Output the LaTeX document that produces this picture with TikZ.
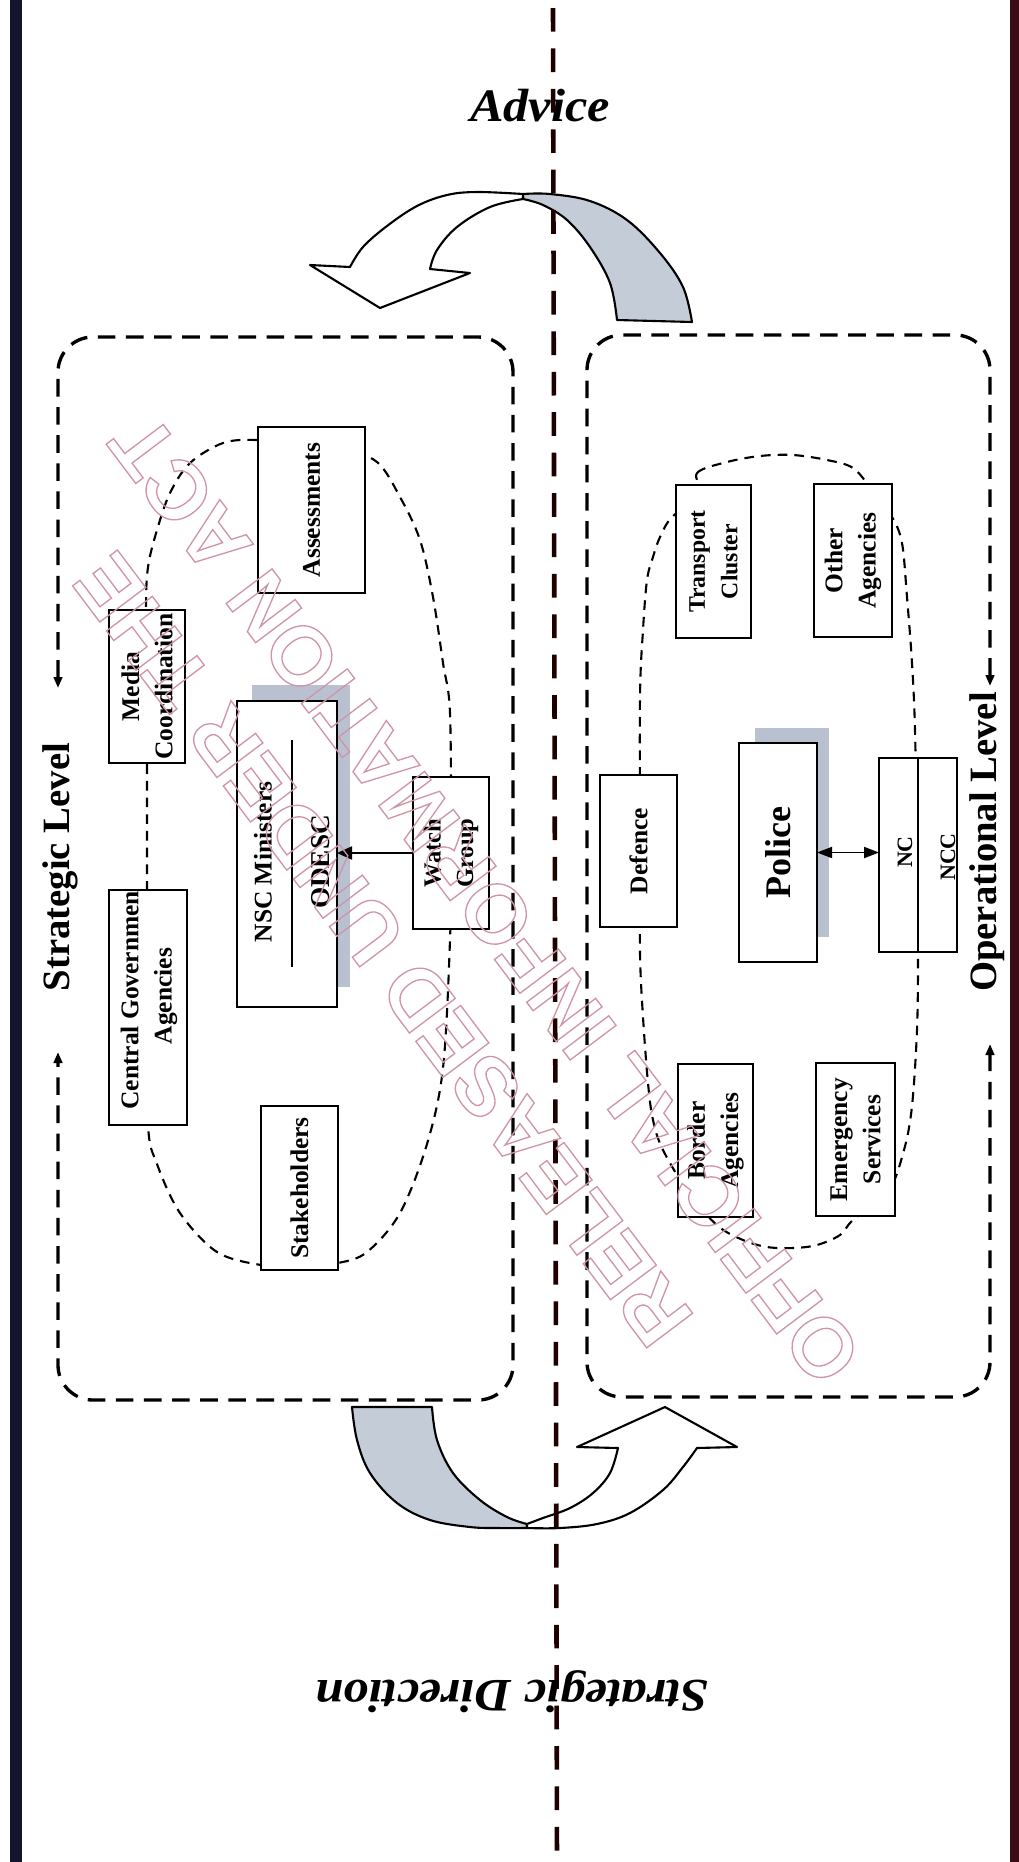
\documentclass[tikz,border=0pt]{standalone}
\usepackage{fontspec}
\setmainfont{Liberation Serif}
\newfontfamily\wmfont{Liberation Sans}
\usetikzlibrary{arrows.meta}
\definecolor{navybar}{HTML}{14142C}
\definecolor{maroonbar}{HTML}{3A0C14}
\definecolor{ribbon}{HTML}{C4CCD8}
\definecolor{shadecol}{HTML}{B9C1D0}
\definecolor{wmpink}{HTML}{CF95A4}
\newcommand{\outl}[1]{\special{pdf:literal direct 1 Tr 0.75 w}#1\special{pdf:literal direct 0 Tr}}
\tikzset{
  every node/.style={inner sep=0pt, outer sep=0pt},
  arrowline/.style={draw=black, line width=1.2pt, line join=round},
  centerdash/.style={draw=black!88!red, line width=2.6pt, dash pattern=on 13.5pt off 9.5pt},
  obox/.style={draw=black, line width=1.9pt, dash pattern=on 10pt off 6pt, rounded corners=7mm},
  loopdash/.style={draw=black, line width=1.2pt, dash pattern=on 5.5pt off 4pt},
  rbox/.style={draw=black, line width=1.3pt, fill=white, rotate=90, align=center,
    font=\bfseries\fontsize{14.5}{19}\selectfont},
  rtext/.style={rotate=90, align=center, font=\bfseries\fontsize{14.5}{19}\selectfont},
  lvl/.style={rotate=90, font=\bfseries\fontsize{22}{26}\selectfont},
  ttl/.style={font=\bfseries\itshape\fontsize{26.5}{30}\selectfont, xscale=1.08},
  gshadow/.style={fill=shadecol},
  wm/.style={text=wmpink, font=\wmfont\bfseries\fontsize{47.5}{50}\selectfont},
  smalltri/.style={{Triangle[length=2.2mm,width=1.7mm]}-{Triangle[length=2.2mm,width=1.7mm]}},
  headarrow/.style={-{Triangle[length=3mm,width=2.6mm]}, line width=1.1pt},
  dblarrow/.style={{Triangle[length=3mm,width=2.2mm]}-{Triangle[length=3mm,width=2.2mm]}, line width=1.1pt}
}
\begin{document}
\begin{tikzpicture}[x=0.2mm, y=-0.2mm]
\useasboundingbox (0,0) rectangle (1019,1862);
\fill[white] (0,0) rectangle (1019,1862);
% side bars
\fill[navybar] (10,0) rectangle (22,1862);
\fill[maroonbar] (1010,0) rectangle (1019,1862);

% top curved arrow (Advice)
\filldraw[arrowline, fill=ribbon] plot[smooth, tension=0.6] coordinates {(523,194) (550,194) (590,201) (627,220) (660,253) (683,287) (692,322)} -- (617,320) -- plot[smooth, tension=0.6] coordinates {(617,320) (610,283) (590,247) (567,220) (543,205) (523,199)} -- cycle;
\filldraw[arrowline, fill=white] plot[smooth, tension=0.6] coordinates {(523,194) (477,192) (447,195) (417,206) (387,226) (363,247) (350,267)} -- (310,265) -- (380,308) -- (470,273) -- plot[smooth, tension=0.6] coordinates {(430,269) (437,250) (457,227) (490,207) (523,199)} -- cycle;

% bottom curved arrow (Strategic Direction)
\filldraw[arrowline, fill=ribbon] (352,1407) -- (432,1407) -- plot[smooth, tension=0.6] coordinates {(432,1407) (437,1440) (453,1473) (480,1500) (507,1517) (527,1524)} -- plot[smooth, tension=0.6] coordinates {(527,1528) (497,1528) (470,1527) (430,1520) (397,1503) (370,1473) (357,1440) (352,1407)} -- cycle;
\filldraw[arrowline, fill=white] plot[smooth, tension=0.6] coordinates {(527,1528) (560,1528) (597,1524) (630,1513) (663,1490) (683,1467) (697,1448)} -- (737,1447) -- (665,1407) -- (577,1447) -- plot[smooth, tension=0.6] coordinates {(618,1448) (610,1473) (593,1493) (570,1508) (543,1518) (527,1524)} -- cycle;

% centre dashed line
\draw[centerdash] (553,8) -- (557,1862);

% outer dashed regions with level labels
\node[lvl] (sl) at (60,867) {Strategic Level};
\node[lvl] (ol) at (987,842) {Operational Level};
\draw[obox, smalltri] (58,688) -- (58,337) -- (513,337) -- (513,1400) -- (58,1400) -- (58,1052);
\draw[obox, smalltri] (990,686) -- (990,335) -- (587,335) -- (587,1397) -- (990,1397) -- (990,1044);

% inner loops
\draw[loopdash] plot[smooth cycle, tension=0.55] coordinates {
 (310,445) (257,440) (223,443) (190,463) (170,493) (157,530) (148,567) (146,610)
 (147,700) (147,830) (147,1000) (148,1125) (157,1164) (180,1213) (217,1252) (261,1265)
 (300,1267) (338,1263) (367,1252) (400,1213) (427,1144) (443,1068) (450,940) (451,850)
 (450,713) (443,663) (433,597) (420,540) (400,497) (377,462) (340,447)};
\draw[loopdash] plot[smooth cycle, tension=0.55] coordinates {
 (700,495) (697,473) (727,462) (760,456) (793,455) (827,460) (853,468) (872,490)
 (892,517) (902,543) (907,597) (912,663) (915,730) (917,850) (918,953) (917,1030)
 (912,1106) (904,1150) (888,1192) (853,1220) (840,1235) (817,1245) (793,1248) (767,1247)
 (743,1240) (718,1226) (690,1195) (663,1150) (653,1120) (648,1083) (643,1017) (640,953)
 (640,850) (640,697) (643,630) (647,580) (653,557) (660,537) (672,517)};

% shadows
\fill[gshadow] (252,685) rectangle (350,987);
\fill[gshadow] (755,728) rectangle (829,937);

% strategic boxes
\node[rbox, minimum width=33.2mm, minimum height=21.4mm] (assess) at (311.5,510) {Assessments};
\node[rbox, minimum width=30.6mm, minimum height=15.2mm] (media) at (147,686.5) {Media\\Coordination};
\node[rbox, minimum width=61.2mm, minimum height=20mm] (nsc) at (287,854) {};
\node[rtext] (nscmin) at (263,862) {NSC Ministers};
\node[rtext, font=\bfseries\fontsize{15.5}{19}\selectfont] (odesc) at (321,862) {ODESC};
\draw[line width=1pt] (292,740) -- (292,967);
\node[rbox, font=\bfseries\fontsize{14}{18.5}\selectfont, minimum width=30.4mm, minimum height=15.2mm] (watch) at (451,853) {Watch\\Group};
\node[rbox, minimum width=47mm, minimum height=15.6mm] (cga) at (148,1007.5) {};
\begin{scope}
  \clip (109,890) rectangle (187,1125);
  \node[rtext] (cgatext) at (149,996) {Central Government\\Agencies};
\end{scope}
\node[rbox, minimum width=32.8mm, minimum height=15.4mm] (stake) at (299.5,1188) {Stakeholders};
\draw[headarrow] (watch.north) -- (watch.north -| nsc.south);

% operational boxes
\node[rbox, font=\bfseries\fontsize{13.5}{18.5}\selectfont, minimum width=30.6mm, minimum height=15mm] (transport) at (713.5,561.5) {Transport\\Cluster};
\node[rbox, minimum width=30.6mm, minimum height=15.6mm] (other) at (853,560.5) {Other\\Agencies};
\node[rbox, minimum width=30.4mm, minimum height=15.4mm] (defence) at (638.5,851) {Defence};
\node[rbox, font=\bfseries\fontsize{20.5}{24}\selectfont, minimum width=43.8mm, minimum height=15.6mm] (police) at (778,852.5) {Police};
\node[rbox, minimum width=38.8mm, minimum height=15.6mm] (nc) at (918,855) {};
\draw[line width=1.1pt] (nc.east) -- (nc.west);
\node[rtext, font=\bfseries\fontsize{12.5}{14}\selectfont] (nclab) at (905,852) {NC};
\node[rtext, font=\bfseries\fontsize{12.5}{14}\selectfont] (ncclab) at (948,857) {NCC};
\node[rbox, minimum width=30.6mm, minimum height=15mm] (border) at (715.5,1140.5) {Border\\Agencies};
\node[rbox, minimum width=30.6mm, minimum height=15.8mm] (emerg) at (855.5,1139.5) {Emergency\\Services};
\draw[dblarrow] (police.south) -- (police.south -| nc.north);

% titles
\node[ttl] (advice) at (540,106) {Advice};
\node[ttl, rotate=180] (sdir) at (512,1692) {Strategic Direction};

% watermark
\node[wm, rotate=127, anchor=west] (wmb) at (842,1373) {\outl{OFFICIAL INFORMATION ACT}};
\node[wm, rotate=127, anchor=west] (wma) at (673,1335) {\outl{RELEASED UNDER THE}};
\end{tikzpicture}
\end{document}
